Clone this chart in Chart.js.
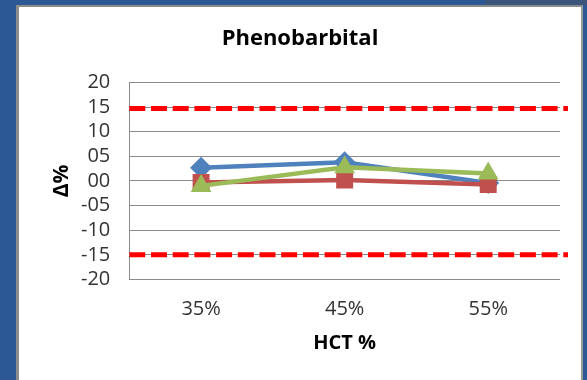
<!DOCTYPE html>
<html>
<head>
<meta charset="utf-8">
<script src="https://cdn.jsdelivr.net/npm/chart.js@4/dist/chart.umd.min.js"></script>
<style>
  html, body { margin: 0; padding: 0; }
  body { width: 587px; height: 380px; background: #2c5895; position: relative; overflow: hidden; }
  #corner { position: absolute; left: 485px; top: 0; width: 102px; height: 5px; background: #3b5479; }
  #sheet { position: absolute; left: 16px; top: 5px; width: 567px; height: 380px; box-sizing: border-box;
           background: #fff; border-left: 3px solid #8c8c8c; border-top: 2px solid #8c8c8c; border-right: 2px solid #9a9a9a; }
  #chart { position: absolute; left: 0; top: 0; }
</style>
</head>
<body>
<div id="corner"></div>
<div id="sheet"></div>
<canvas id="chart" width="587" height="380"></canvas>
<script>
const hctLevels = ['35%', '45%', '55%'];
const deltaBlue = [2.7, 3.8, -0.4];
const deltaRed = [-0.3, 0.2, -0.7];
const deltaGreen = [-1.0, 2.8, 1.5];
const limitLines = [14.7, -15];
const yMin = -20, yMax = 20, yStep = 5;

const FONT = "'Open Sans', 'Liberation Sans', sans-serif";

// red dashed acceptance limits, a bit past the right edge of the plot
const limitPlugin = {
  id: 'limits',
  beforeDatasetsDraw(chart) {
    const { ctx, chartArea, scales } = chart;
    ctx.save();
    ctx.strokeStyle = '#ff0000';
    ctx.lineWidth = 5;
    ctx.setLineDash([16, 5.7]);
    limitLines.forEach(v => {
      const y = scales.y.getPixelForValue(v);
      ctx.beginPath();
      ctx.moveTo(chartArea.left, y);
      ctx.lineTo(chartArea.right + 8, y);
      ctx.stroke();
    });
    ctx.restore();
  }
};

const series = (label, data, color, shape, radius, order) => ({
  label, data, order,
  borderColor: color, backgroundColor: color,
  borderWidth: 4.5, tension: 0,
  pointStyle: shape, pointRadius: radius, pointHoverRadius: radius,
  pointBorderWidth: 0, pointBackgroundColor: color
});

new Chart(document.getElementById('chart'), {
  type: 'line',
  data: {
    labels: hctLevels,
    datasets: [
      series('S1', deltaBlue, '#4f81bd', 'rectRot', 11, 2),
      series('S2', deltaRed, '#c0504d', 'rect', 12, 1),
      series('S3', deltaGreen, '#9bbb59', 'triangle', 12, 0)
    ]
  },
  options: {
    responsive: false,
    animation: false,
    layout: { padding: { left: 19, right: 6, top: 0, bottom: 0 } },
    plugins: {
      legend: { display: false },
      tooltip: { enabled: false },
      title: {
        display: true,
        text: 'Phenobarbital',
        color: '#000',
        font: { family: FONT, size: 22, weight: 'bold' },
        padding: { top: 26, bottom: 30 }
      }
    },
    scales: {
      x: {
        offset: true,
        grid: { display: false, drawTicks: false },
        border: { display: false },
        ticks: { color: '#333', font: { family: FONT, size: 20 }, padding: 18 },
        title: { display: true, text: 'HCT %', color: '#000', font: { family: FONT, size: 20, weight: 'bold' }, padding: { top: 0, bottom: 25 } },
        afterFit(s) { s.height = 100.5; }
      },
      y: {
        min: yMin, max: yMax,
        grid: { color: '#8c8c8c', lineWidth: 1, drawTicks: false },
        border: { display: true, color: '#8c8c8c', width: 1 },
        ticks: {
          stepSize: yStep, autoSkip: false, color: '#333', font: { family: FONT, size: 20 }, padding: 19,
          callback: v => (v < 0 ? '-' : '') + String(Math.abs(v)).padStart(2, '0')
        },
        title: { display: true, text: 'Δ%', color: '#000', font: { family: FONT, size: 21, weight: 'bold' }, padding: { top: 30, bottom: 0 } },
        afterFit(s) { s.width = 110.3; }
      },
      yRight: {
        position: 'right',
        display: true,
        grid: { display: false, drawTicks: false },
        border: { display: false },
        ticks: { display: false },
        afterFit(s) { s.width = 21; }
      }
    }
  },
  plugins: [limitPlugin]
});
</script>
</body>
</html>
